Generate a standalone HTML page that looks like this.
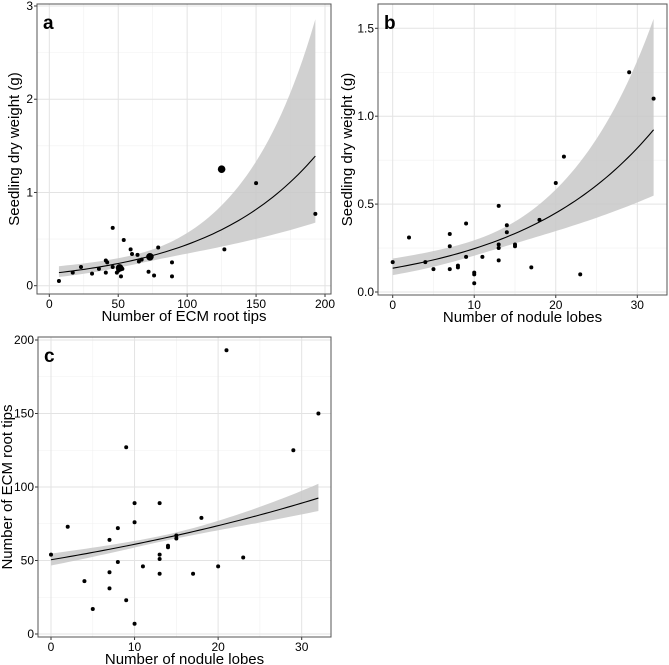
<!DOCTYPE html>
<html><head><meta charset="utf-8"><style>
body{margin:0;background:#fff;}
svg{display:block;font-family:"Liberation Sans",Arial,sans-serif;}
</style></head><body>
<svg id="fig" width="669" height="665" viewBox="0 0 669 665"></svg>
<script>
// Panel a: ECM root tips vs seedling dry weight
const aX=[7,17,23,31,36,41,41,42,46,46,49,50,51,52,53,54,59,60,64,65,67,72,73,76,79,89,89,125,127,150,193];
const aY=[0.05,0.14,0.2,0.13,0.18,0.14,0.27,0.25,0.2,0.62,0.14,0.16,0.19,0.1,0.18,0.49,0.39,0.34,0.33,0.26,0.28,0.15,0.31,0.11,0.41,0.25,0.1,1.25,0.39,1.1,0.77];
const aBig=[0,0,0,0,0,0,0,0,0,0,0,0,1,0,0,0,0,0,0,0,0,0,1,0,0,0,0,1,0,0,0];
const aFit=[-2.052,0.01234,70,0.18,0.00567,7,193]; // intercept, slope, xm, h0, k, xmin, xmax
const aXTicks=[0,50,100,150,200];
const aYTicks=[0,1,2,3];
// Panel b: nodule lobes vs seedling dry weight
const bX=[0,2,4,5,7,7,7,8,8,9,9,10,10,10,11,13,13,13,13,14,14,15,15,17,18,20,21,23,29,32];
const bY=[0.17,0.31,0.17,0.13,0.33,0.26,0.13,0.15,0.14,0.39,0.2,0.11,0.1,0.05,0.2,0.49,0.27,0.25,0.18,0.38,0.34,0.27,0.26,0.14,0.41,0.62,0.77,0.1,1.25,1.1];
const bFit=[-2.0,0.06,12,0.17,0.0246,0,32];
const bXTicks=[0,10,20,30];
const bYTicks=[0,0.5,1.0,1.5];
const bYLabels=["0.0","0.5","1.0","1.5"];
// Panel c: nodule lobes vs ECM root tips
const cX=[0,2,4,5,7,7,7,8,8,9,9,10,10,10,11,13,13,13,13,14,14,15,15,17,18,20,21,23,29,32];
const cY=[54,73,36,17,64,42,31,72,49,127,23,89,76,7,46,89,54,51,41,60,59,67,65,41,79,46,193,52,125,150];
const cFit=[3.922,0.0189,14,0.03,0.0053,0,32];
const cXTicks=[0,10,20,30];
const cYTicks=[0,50,100,150,200];

const NS="http://www.w3.org/2000/svg";
const svg=document.getElementById('fig');
function mk(tag,attrs,parent){const e=document.createElementNS(NS,tag);for(const k in attrs)e.setAttribute(k,attrs[k]);(parent||svg).appendChild(e);return e;}

function panel(o){
  const g=mk('g',{});
  
  
  const sx=v=>o.px0+(v-o.x0)*(o.px1-o.px0)/(o.x1-o.x0);
  const sy=v=>o.py0+(v-o.y0)*(o.py1-o.py0)/(o.y1-o.y0);
  mk('rect',{x:o.L,y:o.T,width:o.R-o.L,height:o.B-o.T,fill:'#fff'},g);
  const xs=o.xt, ys=o.yt;
  for(let i=0;i<xs.length-1;i++){const v=(xs[i]+xs[i+1])/2;const l=mk('line',{x1:sx(v),x2:sx(v),y1:o.T,y2:o.B,stroke:'#f0f0f0','stroke-width':0.6},g);}
  for(let i=0;i<ys.length-1;i++){const v=(ys[i]+ys[i+1])/2;const l=mk('line',{y1:sy(v),y2:sy(v),x1:o.L,x2:o.R,stroke:'#f0f0f0','stroke-width':0.6},g);}
  xs.forEach((v,i)=>{const l=mk('line',{x1:sx(v),x2:sx(v),y1:o.T,y2:o.B,stroke:'#e3e3e3','stroke-width':1},g);
    mk('line',{x1:sx(v),x2:sx(v),y1:o.B,y2:o.B+3,stroke:'#333'},g);
    const t=mk('text',{x:sx(v),y:o.B+14,'text-anchor':'middle','font-size':12,fill:'#000'},g);t.textContent=o.xl?o.xl[i]:v;});
  ys.forEach((v,i)=>{const l=mk('line',{y1:sy(v),y2:sy(v),x1:o.L,x2:o.R,stroke:'#e3e3e3','stroke-width':1},g);
    mk('line',{y1:sy(v),y2:sy(v),x1:o.L-3,x2:o.L,stroke:'#333'},g);
    const t=mk('text',{x:o.L-4,y:sy(v)+4,'text-anchor':'end','font-size':12,fill:'#000'},g);t.textContent=o.yl?o.yl[i]:v;});
  const f=o.fit, N=60; let up=[],lo=[],ln=[];
  for(let i=0;i<=N;i++){const x=f[5]+(f[6]-f[5])*i/N;const m=f[0]+f[1]*x;const h=Math.sqrt(f[3]*f[3]+f[4]*f[4]*(x-f[2])*(x-f[2]));
    up.push(sx(x)+','+sy(Math.exp(m+h)));lo.push(sx(x)+','+sy(Math.exp(m-h)));ln.push(sx(x)+','+sy(Math.exp(m)));}
  const band=mk('polygon',{points:up.concat(lo.reverse()).join(' '),fill:'#c8c8c8','fill-opacity':0.85},g);
  
  const line=mk('polyline',{points:ln.join(' '),fill:'none',stroke:'#000','stroke-width':1.1},g);
  
  o.X.forEach((x,i)=>{const c=mk('circle',{cx:sx(x),cy:sy(o.Y[i]),r:(o.big&&o.big[i])?3.8:2,fill:'#000'},g);
    });
  mk('rect',{x:o.L,y:o.T,width:o.R-o.L,height:o.B-o.T,fill:'none',stroke:'#555','stroke-width':1},g);
  const lab=mk('text',{x:o.L+6,y:o.T+25,'font-size':19,'font-weight':'bold',fill:'#000'},g);lab.textContent=o.id;
  
  const xt=mk('text',{x:(o.L+o.R)/2,y:o.B+27,'text-anchor':'middle','font-size':15,fill:'#000'},g);xt.textContent=o.xtitle;
  
  const cyT=(o.T+o.B)/2;
  const yt=mk('text',{x:o.ytx,y:cyT,'text-anchor':'middle','font-size':15,fill:'#000',transform:'rotate(-90 '+o.ytx+' '+cyT+')'},g);yt.textContent=o.ytitle;
  
}
panel({id:'a',L:37,R:331,T:4,B:294,x0:0,x1:200,px0:49.3,px1:325,y0:0,y1:3,py0:285.7,py1:6,X:aX,Y:aY,big:aBig,fit:aFit,xt:aXTicks,yt:aYTicks,xtitle:'Number of ECM root tips',ytitle:'Seedling dry weight (g)',ytx:19});
panel({id:'b',L:378,R:667,T:4,B:295,x0:0,x1:30,px0:392.7,px1:637.3,y0:0,y1:1.5,py0:292,py1:28.3,X:bX,Y:bY,fit:bFit,xt:bXTicks,yt:bYTicks,yl:bYLabels,xtitle:'Number of nodule lobes',ytitle:'Seedling dry weight (g)',ytx:352});
panel({id:'c',L:38,R:331,T:337,B:637,x0:0,x1:30,px0:51,px1:301.7,y0:0,y1:200,py0:634,py1:340,X:cX,Y:cY,fit:cFit,xt:cXTicks,yt:cYTicks,xtitle:'Number of nodule lobes',ytitle:'Number of ECM root tips',ytx:12});
</script>
</body></html>
